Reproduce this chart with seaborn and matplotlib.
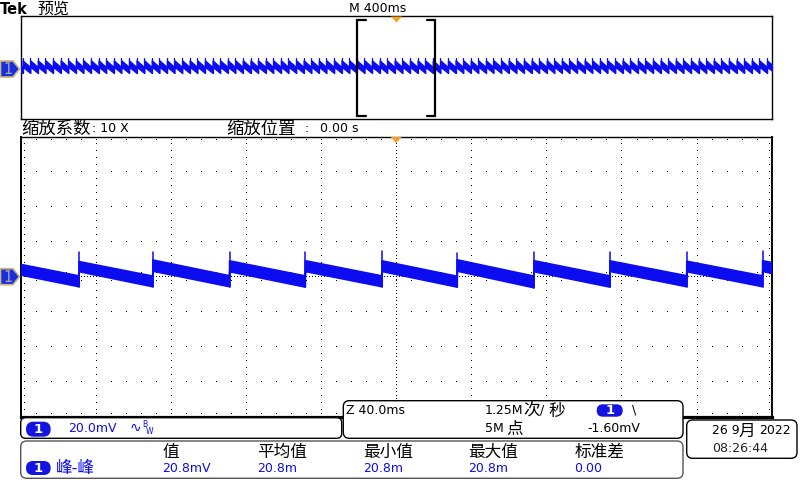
import numpy as np
import pandas as pd
import seaborn as sns
import matplotlib.pyplot as plt
from matplotlib.patches import Polygon, FancyBboxPatch

sns.set_theme(style="white")
plt.rcParams['font.family'] = ['DejaVu Sans', 'Noto Sans CJK SC']
CJK = ['Noto Sans CJK SC', 'DejaVu Sans']

BLUE = '#0c0cf0'
PILL = '#1414e0'
ORANGE = '#f5a01e'

# %% data
# zoomed window: 40 ms/div, 20 mV/div, 10 x 8 div
main_jump_ms = [-209.4, -168.9, -129.6, -88.7, -48.4, -7.5, 32.5, 73.4, 113.9, 154.8, 195.2, 235.7]
main_spike_mv = [14.3, 14.3, 14.3, 14.3, 14.3, 14.7, 13.7, 14.3, 14.3, 14.3, 14.7, 14.3]
# band (noise envelope) right after each jump and just before the next one
main_top_start_mv = [9.0, 8.6, 9.5, 9.0, 9.1, 9.0, 9.6, 9.1, 9.0, 8.8, 9.1]
main_bot_start_mv = [3.0, 2.9, 3.2, 2.9, 3.0, 3.0, 3.2, 2.9, 3.0, 2.9, 3.0]
main_top_end_mv = [0.4, 0.3, 0.5, 0.4, 0.4, 0.2, 0.3, 0.4, 0.5, 0.4, 0.4]
main_bot_end_mv = [-5.7, -5.7, -5.7, -5.9, -5.7, -5.9, -6.3, -5.9, -5.7, -5.7, -5.7]

# overview record: 400 ms/div
ov_jump_ms = [-2030, -1990, -1949, -1909, -1868, -1828, -1787, -1747, -1706, -1666, -1626,
              -1585, -1545, -1504, -1464, -1423, -1383, -1342, -1302, -1261, -1221, -1181,
              -1140, -1100, -1059, -1019, -978, -938, -897, -857, -817, -776, -736, -695,
              -655, -614, -574, -533, -493, -452, -412, -372, -331, -291, -250, -210, -169,
              -129, -88, -48, -8, 33, 73, 114, 154, 195, 235, 276, 316, 357, 397, 437, 478,
              518, 559, 599, 640, 680, 721, 761, 802, 842, 882, 923, 963, 1004, 1044, 1085,
              1125, 1166, 1206, 1246, 1287, 1327, 1368, 1408, 1449, 1489, 1530, 1570, 1611,
              1651, 1691, 1732, 1772, 1813, 1853, 1894, 1934, 1975, 2015]
ov_spike_mv = 14.3
ov_top_start_mv = 11.5
ov_bot_start_mv = 3.0
ov_top_end_mv = 2.5
ov_bot_end_mv = -5.2

main_xlim = (-200, 200)
main_ylim = (-80, 80)
ov_xlim = (-2000, 2000)
ov_ylim = (-66.7, 70.7)
bracket_ms = 207

meas_headers = ['值', '平均值', '最小值', '最大值', '标准差']
meas_values = ['20.8mV', '20.8m', '20.8m', '20.8m', '0.00']
meas_x = [162.3, 256.7, 362.7, 468.3, 574.3]

# %% figure
W, H = 800, 480
fig = plt.figure(figsize=(8, 4.8), dpi=100)


def rect(x0, y0, x1, y1):
    return [x0 / W, 1 - y1 / H, (x1 - x0) / W, (y1 - y0) / H]


OV = (20.7, 16, 771.7, 119)
MAIN = (20.7, 136.7, 771.7, 416.7)
ov = fig.add_axes(rect(*OV))
ax = fig.add_axes(rect(*MAIN))


def draw_wave(a, jumps, spikes, top0, bot0, top1, bot1, lw, edge):
    jumps = np.asarray(jumps, float)
    n = len(jumps) - 1
    top0, bot0 = np.broadcast_to(top0, n), np.broadcast_to(bot0, n)
    top1, bot1 = np.broadcast_to(top1, n), np.broadcast_to(bot1, n)
    t = np.column_stack([jumps[:-1], jumps[1:]]).ravel()
    upper = np.column_stack([top0, top1]).ravel()
    lower = np.column_stack([bot0, bot1]).ravel()
    a.fill_between(t, lower, upper, color=BLUE, edgecolor=BLUE, linewidth=edge, zorder=3)
    # the overshoot spike at every jump
    low = np.concatenate([[bot1[0]], bot1])
    spk = pd.DataFrame({'t': np.repeat(jumps, 2),
                        'mv': np.column_stack([low, np.broadcast_to(spikes, n + 1)]).ravel(),
                        'jump': np.repeat(np.arange(n + 1), 2)})
    sns.lineplot(data=spk, x='t', y='mv', units='jump', estimator=None,
                 color=BLUE, linewidth=lw, ax=a, legend=False, zorder=3)


draw_wave(ax, main_jump_ms, main_spike_mv, main_top_start_mv, main_bot_start_mv,
          main_top_end_mv, main_bot_end_mv, 1.1, 1.3)
draw_wave(ov, ov_jump_ms, ov_spike_mv, ov_top_start_mv, ov_bot_start_mv,
          ov_top_end_mv, ov_bot_end_mv, 0.9, 1.0)

for a, xl, yl in [(ax, main_xlim, main_ylim), (ov, ov_xlim, ov_ylim)]:
    a.set_xlim(xl)
    a.set_ylim(yl)
    a.set_xticks([])
    a.set_yticks([])
    a.set_xlabel('')
    a.set_ylabel('')
    a.set_facecolor('white')
    for s in a.spines.values():
        s.set_color('black')
        s.set_linewidth(1.0)
        s.set_visible(True)
ax.spines['bottom'].set_linewidth(2.3)
ax.spines['left'].set_linewidth(1.4)
ax.spines['right'].set_linewidth(1.4)

# graticule: 10 x 8 divisions of dots
dx, dy = 40, 20
minor_x = np.arange(main_xlim[0], main_xlim[1] + 0.1, dx / 5)
minor_y = np.arange(main_ylim[0], main_ylim[1] + 0.1, dy / 5)
dot = dict(ls='none', marker=',', color='black', zorder=1)
for x in np.arange(main_xlim[0] + dx, main_xlim[1], dx):
    if x != 0:
        ax.plot(np.full_like(minor_y, x), minor_y, **dot)
for y in np.arange(main_ylim[0] + dy, main_ylim[1], dy):
    if y != 0:
        ax.plot(minor_x, np.full_like(minor_x, y), **dot)
# centre cross: denser dots, small ticks on the horizontal one
fine_x = np.arange(main_xlim[0], main_xlim[1] + 0.1, dx / 25)
fine_y = np.arange(main_ylim[0], main_ylim[1] + 0.1, dy / 10)
ax.plot(fine_x, np.zeros_like(fine_x), **dot)
ax.plot(np.zeros_like(fine_y), fine_y, **dot)
for off in (-2.3, 2.3):
    ax.plot(minor_x, np.full_like(minor_x, off), **dot)
# ticks just inside the border
ax.plot(minor_x, np.full_like(minor_x, main_ylim[1] - 1.7), **dot)
ax.plot(minor_x, np.full_like(minor_x, main_ylim[0] + 1.7), **dot)
ax.plot(np.full_like(minor_y, main_xlim[0] + 1.6), minor_y, **dot)
ax.plot(np.full_like(minor_y, main_xlim[1] - 1.6), minor_y, **dot)

# zoom bracket on the overview
tr = ov.get_xaxis_transform()
arm = 45
for side in (-1, 1):
    xb = side * bracket_ms
    ov.plot([xb - side * arm, xb, xb, xb - side * arm], [0.965, 0.965, 0.03, 0.03],
            transform=tr, color='black', lw=1.6, solid_joinstyle='miter', zorder=4)

# %% screen furniture, in pixel coordinates
ui = fig.add_axes([0, 0, 1, 1])
ui.set_xlim(0, W)
ui.set_ylim(H, 0)
ui.axis('off')


def txt(x, y, s, size=9, color='black', family=None, **kw):
    ui.text(x, y, s, fontsize=size, color=color, ha='left', va='center',
            family=family if family else ['DejaVu Sans', 'Noto Sans CJK SC'], **kw)


def cjk(x, y, s, size=12.5, color='black'):
    # Noto CJK sits a little high with va='center'
    txt(x, y + 1.5, s, size=size, color=color, family=CJK)


def box(x0, y0, x1, y1, r=6, ec='black', lw=1.0):
    ui.add_patch(FancyBboxPatch((x0, y0), x1 - x0, y1 - y0,
                                boxstyle=f'round,pad=0,rounding_size={r}',
                                fc='white', ec=ec, lw=lw, zorder=2))


def pill(x0, y0, x1, y1):
    ui.add_patch(FancyBboxPatch((x0, y0), x1 - x0, y1 - y0,
                                boxstyle=f'round,pad=0,rounding_size={(y1 - y0) / 2}',
                                fc=PILL, ec='none', zorder=3))
    ui.text((x0 + x1) / 2, (y0 + y1) / 2 + 0.5, '1', fontsize=9.5, color='white',
            weight='bold', ha='center', va='center', zorder=4)


def ch_marker(yc):
    ui.add_patch(Polygon([(0.5, yc - 8), (13, yc - 8), (19.5, yc), (13, yc + 8), (0.5, yc + 8)],
                         closed=True, fc='#1a2ee0', ec='#c8b878', lw=1.2, zorder=3))
    ui.text(8.5, yc + 0.5, '1', fontsize=10.5, color='#a8a8a8', ha='center', va='center', zorder=4)


def tri(xc, ytop):
    ui.add_patch(Polygon([(xc - 5.5, ytop), (xc + 5.5, ytop), (xc, ytop + 6)],
                         closed=True, fc=ORANGE, ec='none', zorder=3))


# ground markers at 0 mV of each view
ch_marker(MAIN[1] + (MAIN[3] - MAIN[1]) * main_ylim[1] / (main_ylim[1] - main_ylim[0]))
ch_marker(OV[1] + (OV[3] - OV[1]) * ov_ylim[1] / (ov_ylim[1] - ov_ylim[0]))
tri(396.5, 16.5)
tri(396.2, 137.0)

# header
txt(0, 9, 'Tek', size=10.5, weight='bold')
cjk(37.5, 7.5, '预览', size=11.5)
txt(349, 8, 'M 400ms', size=9)
cjk(21, 127.5, '缩放系数')
txt(92, 128.5, ': 10 X', size=9)
cjk(226, 127.5, '缩放位置')
txt(304.5, 128.5, ':', size=9)
txt(320, 128.5, '0.00 s', size=9)

# channel readout
box(20.7, 417.7, 341.7, 438.3, r=5)
pill(26, 421.7, 50.7, 436.7)
txt(67.7, 428, '20.0mV', color=BLUE)
txt(129.5, 427.5, '∿', size=10, color=BLUE)
txt(142.3, 424.5, 'B', size=5.5, color=BLUE)
txt(146.2, 431, 'W', size=5.5, color=BLUE)

# timebase readout
box(343.3, 400.7, 683, 438.3, r=6)
txt(346, 410, 'Z 40.0ms')
txt(485, 410, '1.25M')
cjk(523, 410, '次', size=12)
txt(540.5, 410, '/')
cjk(548, 410, '秒', size=12)
pill(596.7, 404.3, 622.7, 416.7)
txt(631.5, 410, '\\', size=9)
txt(485, 428.5, '5M')
cjk(506, 428, '点', size=12)
txt(587, 428.5, '-1.60mV')

# measurement table
box(20.7, 441, 683, 478.3, r=6, ec='#555555')
for x, h, v in zip(meas_x, meas_headers, meas_values):
    cjk(x, 450.5, h, size=12)
    txt(x, 468.5, v, color=BLUE)
pill(26, 461, 50.7, 475)
cjk(55.5, 467, '峰-峰', size=12, color=BLUE)

# date / time
box(686.7, 420, 797, 458.3, r=6)
txt(711.7, 430, '26 9')
cjk(738.5, 430, '月', size=12)
txt(759.5, 430, '2022')
txt(711.7, 448.5, '08:26:44', color='#222222')

fig.savefig('out.png', dpi=100, facecolor='white')
